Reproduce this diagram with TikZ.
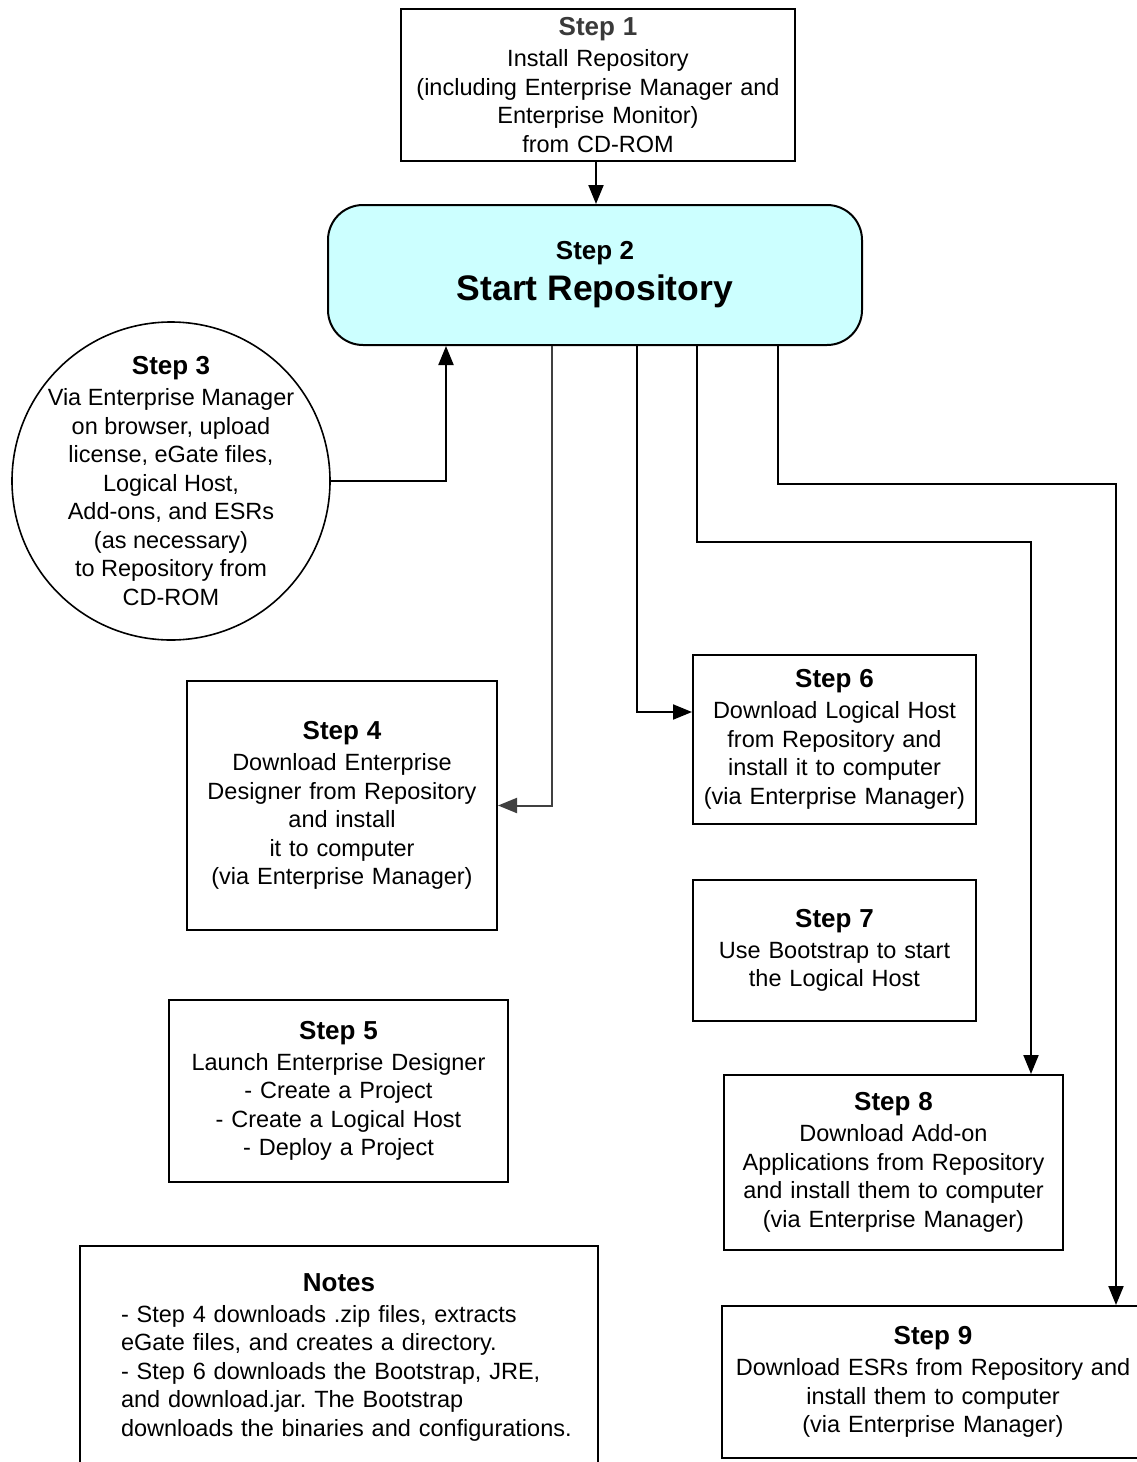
\documentclass[tikz,border=0pt]{standalone}
\usepackage{fontspec}
\setmainfont{Liberation Sans}
\usetikzlibrary{arrows.meta}
\definecolor{cyanfill}{HTML}{CCFFFF}
\definecolor{darkline}{HTML}{404040}
\definecolor{headgray}{HTML}{3A3A3A}
\newcommand{\bodyfont}{\fontsize{23.5}{28.5}\selectfont}
\newcommand{\hd}[1]{{\fontsize{26}{30}\selectfont\bfseries #1}\\[2.5pt]}
\tikzset{
  stepbox/.style={draw, line width=2pt, align=center, inner sep=0pt, font=\bodyfont},
  conn/.style={line width=2pt, -{Triangle[length=19pt,width=15pt]}},
}
\begin{document}
\frenchspacing
\begin{tikzpicture}[x=1pt,y=-1pt]
\useasboundingbox (0,0) rectangle (1137,1462);
\fill[white] (0,0) rectangle (1137,1462);
\clip (0,0) rectangle (1137,1462);

% nodes
\node[stepbox, minimum width=394pt, minimum height=152pt, text width=384pt] (s1) at (598,85)
  {{\fontsize{26}{30}\selectfont\bfseries\color{headgray}Step 1}\\[2.5pt]Install Repository\\(including Enterprise Manager and\\Enterprise Monitor)\\from CD-ROM};
\node[draw, line width=2pt, rounded corners=35pt, fill=cyanfill, minimum width=534pt, minimum height=140pt,
  align=center, inner sep=0pt, font=\fontsize{35.5}{41}\selectfont\bfseries] (s2) at (595,275)
  {{\fontsize{26}{30}\selectfont Step 2}\\Start Repository};
\node[draw, circle, line width=1.6pt, minimum size=318pt, inner sep=0pt] (s3) at (171,481) {};
\node[align=center, inner sep=0pt, font=\bodyfont] (s3t) at (s3.center)
  {\hd{Step 3}Via Enterprise Manager\\on browser, upload\\license, eGate files,\\Logical Host,\\Add-ons, and ESRs\\(as necessary)\\to Repository from\\CD-ROM};
\node[stepbox, minimum width=310pt, minimum height=249pt, text width=300pt] (s4) at (342,805.5)
  {\hd{Step 4}Download Enterprise\\Designer from Repository\\and install\\it to computer\\(via Enterprise Manager)};
\node[stepbox, minimum width=339pt, minimum height=182pt, text width=330pt] (s5) at (338.5,1091)
  {\hd{Step 5}Launch Enterprise Designer\\- Create a Project\\- Create a Logical Host\\- Deploy a Project};
\node[stepbox, minimum width=283pt, minimum height=169pt, text width=275pt] (s6) at (834.5,739.5)
  {\hd{Step 6}Download Logical Host\\from Repository and\\install it to computer\\(via Enterprise Manager)};
\node[stepbox, minimum width=283pt, minimum height=141pt, text width=275pt] (s7) at (834.5,950.5)
  {\hd{Step 7}Use Bootstrap to start\\the Logical Host};
\node[stepbox, minimum width=339pt, minimum height=175pt, text width=330pt] (s8) at (893.5,1162.5)
  {\hd{Step 8}Download Add-on\\Applications from Repository\\and install them to computer\\(via Enterprise Manager)};
\node[stepbox, minimum width=422pt, minimum height=152pt, text width=412pt] (s9) at (933,1382)
  {\hd{Step 9}Download ESRs from Repository and\\install them to computer\\(via Enterprise Manager)};
\node[draw, line width=2pt, inner sep=0pt, minimum width=518pt, minimum height=222pt, text width=436pt, font=\bodyfont] (notes) at (339,1357)
  {\centering{\fontsize{26}{30}\selectfont\bfseries Notes}\par\vspace{2.5pt}\raggedright
   \mbox{- Step 4 downloads .zip files, extracts}\\
   \mbox{eGate files, and creates a directory.}\\
   \mbox{- Step 6 downloads the Bootstrap, JRE,}\\
   \mbox{and download.jar. The Bootstrap}\\
   \mbox{downloads the binaries and configurations.}\par};

% branch coordinates
\coordinate (x1) at (596,0);
\coordinate (x3) at (446,0);
\coordinate (x4) at (552,0);
\coordinate (x6) at (637,0);
\coordinate (y6) at (0,712);
\coordinate (x8) at (697,0);
\coordinate (k8) at (1031,542);
\coordinate (x9) at (778,0);
\coordinate (k9) at (1116,484);

% connectors
\draw[conn] (s1.south -| x1) -- (s2.north -| x1);
\draw[conn] (s3.east) -| (s2.south -| x3);
\draw[conn, draw=darkline] (s2.south -| x4) |- (s4.east);
\draw[conn] (s2.south -| x6) |- (s6.west |- y6);
\draw[conn] (s2.south -| x8) |- (k8) -- (k8 |- s8.north);
\draw[conn] (s2.south -| x9) |- (k9) -- (k9 |- s9.north);
\end{tikzpicture}
\end{document}
